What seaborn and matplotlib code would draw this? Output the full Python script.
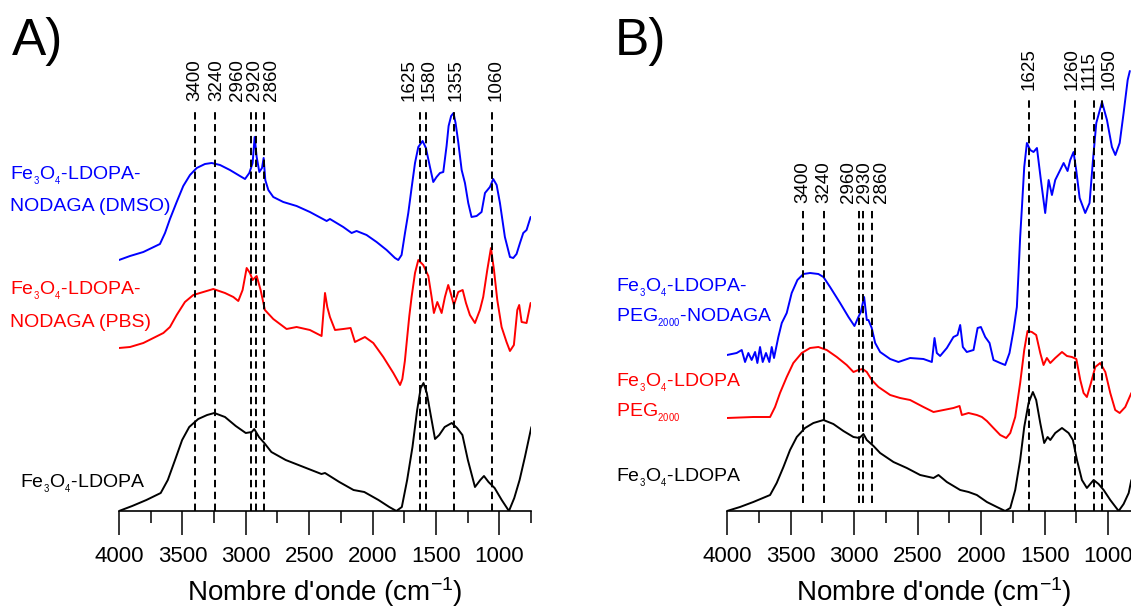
import numpy as np
import pandas as pd
import matplotlib
matplotlib.use("Agg")
import matplotlib.pyplot as plt
from matplotlib.ticker import MultipleLocator
from matplotlib.transforms import offset_copy
import seaborn as sns

# Spectra (wavenumber in cm-1, absorbance in arbitrary units, curves stacked)
a_wn_dmso = [4000, 3913, 3808, 3677, 3637, 3598, 3545, 3493, 3440, 3387, 3322, 3269, 3203, 3125, 3046,
             3006, 2972, 2946, 2930, 2914, 2893, 2872, 2859, 2846, 2822, 2783, 2704, 2599, 2494, 2362,
             2336, 2231, 2165, 2126, 2047, 1968, 1889, 1823, 1797, 1771, 1744, 1718, 1692, 1665, 1639,
             1605, 1579, 1547, 1521, 1495, 1468, 1442, 1416, 1400, 1380, 1361, 1345, 1325, 1297, 1271,
             1245, 1219, 1179, 1140, 1113, 1074, 1048, 1021, 995, 956, 916, 890, 864, 837, 811,
             785, 753]
a_dmso = [251, 255, 259, 267, 278, 292, 309, 325, 336, 343, 347, 348, 346, 341, 335,
          332, 338, 348, 374, 354, 339, 343, 353, 331, 321, 314, 309, 305, 299, 290,
          292, 284, 278, 280, 276, 269, 261, 253, 251, 256, 278, 298, 323, 348, 364,
          370, 363, 344, 329, 334, 338, 339, 365, 385, 395, 398, 388, 370, 341, 328,
          308, 294, 295, 299, 318, 324, 332, 326, 308, 274, 254, 253, 257, 268, 278,
          281, 294]

a_wn_pbs = [4000, 3913, 3808, 3729, 3650, 3598, 3545, 3480, 3414, 3335, 3256, 3164, 3098, 3059, 3025,
            2993, 2967, 2946, 2914, 2883, 2849, 2783, 2678, 2599, 2494, 2402, 2375, 2357, 2336, 2296,
            2231, 2173, 2139, 2060, 1994, 1915, 1836, 1783, 1765, 1745, 1728, 1710, 1692, 1665, 1639,
            1600, 1560, 1534, 1516, 1489, 1455, 1429, 1403, 1384, 1358, 1324, 1289, 1263, 1232, 1192,
            1153, 1127, 1095, 1066, 1042, 1016, 982, 943, 916, 885, 858, 843, 824, 785, 753]
a_pbs = [163, 164, 168, 173, 178, 184, 196, 209, 216, 219, 222, 218, 214, 210, 221,
         243, 238, 231, 235, 221, 201, 192, 182, 184, 181, 175, 218, 204, 194, 181,
         182, 183, 169, 174, 168, 154, 138, 126, 132, 150, 172, 195, 214, 238, 251,
         246, 235, 214, 198, 209, 198, 214, 226, 218, 206, 219, 221, 208, 196, 188,
         201, 214, 241, 263, 241, 211, 184, 169, 160, 166, 201, 206, 189, 188, 208]

a_wn_ldopa = [4000, 3896, 3784, 3671, 3615, 3558, 3502, 3446, 3375, 3305, 3248, 3164, 3079, 3000, 2953,
              2933, 2896, 2854, 2798, 2685, 2544, 2403, 2375, 2262, 2150, 2065, 1953, 1868, 1812, 1769,
              1727, 1685, 1648, 1620, 1598, 1572, 1544, 1507, 1474, 1431, 1375, 1333, 1291, 1248, 1192,
              1150, 1121, 1085, 1037, 981, 924, 882, 840, 798, 747]
a_ldopa = [0, 5, 11, 18, 31, 51, 71, 84, 92, 96, 98, 94, 85, 78, 79,
           82, 74, 68, 59, 51, 44, 37, 38, 29, 21, 19, 11, 4, 0, 4,
           31, 64, 101, 123, 128, 118, 98, 72, 76, 84, 88, 83, 76, 51, 24,
           31, 35, 29, 23, 11, 0, 13, 31, 54, 84]

b_wn_nodaga = [4000, 3924, 3884, 3858, 3832, 3806, 3779, 3761, 3740, 3719, 3693, 3667, 3648, 3630, 3596,
               3569, 3530, 3491, 3446, 3399, 3346, 3281, 3241, 3189, 3110, 3044, 2997, 2966, 2947, 2921,
               2900, 2887, 2861, 2834, 2795, 2716, 2651, 2559, 2454, 2388, 2367, 2349, 2323, 2270, 2218,
               2186, 2165, 2144, 2113, 2060, 2028, 2002, 1968, 1934, 1903, 1850, 1811, 1777, 1745, 1719,
               1706, 1693, 1679, 1661, 1640, 1614, 1588, 1561, 1530, 1496, 1469, 1443, 1417, 1378, 1351,
               1320, 1299, 1273, 1252, 1225, 1181, 1147, 1120, 1094, 1049, 1010, 971, 944, 910, 879,
               847, 830]
b_nodaga = [156, 158, 161, 149, 158, 151, 159, 148, 164, 149, 158, 149, 164, 153, 174,
            188, 198, 218, 231, 237, 238, 237, 234, 224, 208, 194, 185, 194, 199, 214,
            191, 191, 183, 168, 159, 152, 149, 153, 152, 149, 173, 158, 155, 163, 174,
            176, 186, 164, 159, 161, 183, 184, 174, 168, 151, 148, 146, 158, 181, 204,
            238, 274, 304, 344, 368, 361, 359, 363, 331, 298, 331, 316, 331, 341, 348,
            340, 351, 359, 341, 313, 298, 308, 351, 388, 409, 391, 364, 356, 368, 398,
            431, 440]

b_wn_peg = [4000, 3793, 3661, 3622, 3583, 3530, 3478, 3412, 3346, 3281, 3215, 3136, 3058, 3005, 2966,
            2932, 2900, 2861, 2808, 2716, 2638, 2559, 2454, 2375, 2296, 2218, 2170, 2152, 2099, 2034,
            1994, 1955, 1903, 1850, 1803, 1771, 1732, 1693, 1661, 1635, 1601, 1567, 1535, 1509, 1483,
            1456, 1417, 1364, 1325, 1286, 1251, 1220, 1194, 1168, 1136, 1102, 1063, 1023, 984, 945,
            910, 866, 818]
b_peg = [93, 94, 94, 104, 118, 134, 148, 158, 163, 164, 161, 154, 146, 139, 141,
         142, 139, 131, 124, 116, 113, 111, 104, 99, 101, 103, 105, 96, 98, 96,
         94, 90, 83, 76, 73, 78, 94, 128, 161, 180, 179, 176, 158, 146, 153,
         148, 153, 159, 155, 154, 152, 131, 118, 114, 128, 144, 148, 139, 118, 101,
         98, 104, 118]

b_wn_ldopa = [4000, 3898, 3793, 3661, 3609, 3556, 3504, 3451, 3386, 3320, 3241, 3163, 3084, 3005, 2958,
              2926, 2900, 2847, 2795, 2690, 2585, 2480, 2375, 2336, 2270, 2165, 2099, 2034, 1955, 1876,
              1811, 1771, 1732, 1693, 1661, 1627, 1593, 1567, 1535, 1504, 1477, 1456, 1417, 1364, 1312,
              1278, 1246, 1207, 1168, 1115, 1076, 1036, 984, 918, 879, 839, 818]
b_ldopa = [0, 4, 9, 16, 28, 44, 61, 74, 83, 88, 91, 87, 80, 74, 73,
           77, 71, 65, 58, 49, 43, 36, 33, 36, 29, 21, 19, 16, 9, 4,
           0, 3, 21, 51, 84, 108, 119, 111, 88, 68, 74, 71, 78, 83, 78,
           71, 51, 31, 23, 31, 27, 21, 11, 0, 7, 18, 31]

a_peaks = [3400, 3240, 2960, 2920, 2860, 1625, 1580, 1355, 1060]
b_peaks_oh = [3400, 3240, 2960, 2930, 2860]
b_peaks_fp = [1625, 1260, 1115, 1050]

# small sideways nudges (pixels) so the crowded peak labels do not collide
a_nudge = [0, 1, -13, -1, 8, -11, 3, 2, 4]
b_nudge_oh = [0, 0, -11, 2, 10]
b_nudge_fp = [0, -3, -4, 7]

BLUE, RED, BLACK = "#0000ff", "#ff0000", "#000000"

sns.set_style("white")
plt.rcParams["font.family"] = ["Liberation Sans", "DejaVu Sans"]
plt.rcParams["mathtext.fontset"] = "custom"
plt.rcParams["mathtext.rm"] = "Liberation Sans"
plt.rcParams["mathtext.it"] = "Liberation Sans:italic"
plt.rcParams["mathtext.bf"] = "Liberation Sans:bold"
for key in ["text.color", "axes.labelcolor", "xtick.color", "axes.edgecolor"]:
    plt.rcParams[key] = "black"

W, H = 1131, 610
fig = plt.figure(figsize=(W / 100, H / 100), dpi=100)
base = 511  # pixel row of the x axis


def make_axes(x0, x1):
    ax = fig.add_axes([x0 / W, (H - base) / H, (x1 - x0) / W, base / H])
    ax.set_xlim(4000, 750)
    ax.set_ylim(0, base)
    for s in ["left", "right", "top"]:
        ax.spines[s].set_visible(False)
    ax.spines["bottom"].set_linewidth(1.2)
    ax.spines["bottom"].set_color("black")
    ax.set_yticks([])
    ax.xaxis.set_major_locator(MultipleLocator(500))
    ax.xaxis.set_minor_locator(MultipleLocator(250))
    ax.tick_params(axis="x", which="major", direction="out", length=17, width=1.1,
                   labelsize=16, pad=8, bottom=True, colors="black")
    ax.tick_params(axis="x", which="minor", direction="out", length=8.5, width=1.1,
                   bottom=True, colors="black")
    ax.patch.set_alpha(0)
    return ax


def curve(ax, wn, ab, color):
    df = pd.DataFrame({"wn": wn, "ab": ab})
    sns.lineplot(data=df, x="wn", y="ab", ax=ax, color=color, lw=1.4, sort=False,
                 estimator=None, legend=False)


def peaks(ax, wns, nudges, y0, y1, ytxt):
    for w, dx in zip(wns, nudges):
        ax.vlines(w, y0, y1, colors="black", linestyles=(0, (3.8, 2.3)), lw=1.4)
        tr = offset_copy(ax.transData, fig=fig, x=dx, y=0, units="dots")
        ax.text(w, ytxt, str(w), rotation=90, ha="center", va="bottom", fontsize=13.5,
                color="black", transform=tr)


axA = make_axes(119, 531)
curve(axA, a_wn_dmso, a_dmso, BLUE)
curve(axA, a_wn_pbs, a_pbs, RED)
curve(axA, a_wn_ldopa, a_ldopa, BLACK)
peaks(axA, a_peaks, a_nudge, 0, 399, 410)
axA.set_xlabel("Nombre d'onde (cm$^{-1}$)", fontsize=20, labelpad=6, color="black")
axA.set_ylabel("")

axB = make_axes(727, 1140)
curve(axB, b_wn_nodaga, b_nodaga, BLUE)
curve(axB, b_wn_peg, b_peg, RED)
curve(axB, b_wn_ldopa, b_ldopa, BLACK)
peaks(axB, b_peaks_oh, b_nudge_oh, 8, 301, 308)
peaks(axB, b_peaks_fp, b_nudge_fp, 0, 413, 421)
axB.set_xlabel("Nombre d'onde (cm$^{-1}$)", fontsize=20, labelpad=6, color="black")
axB.set_ylabel("")


def label(px, py, s, color, size=14):
    fig.text(px / W, 1 - py / H, s, color=color, fontsize=size, ha="left", va="baseline")


fe = "Fe$_{{}_3}$O$_{{}_4}$-LDOPA"
peg = "PEG$_{{}_{2000}}$"
label(12, 55, "A)", BLACK, 37)
label(615, 55, "B)", BLACK, 37)
label(10, 180, fe + "-", BLUE)
label(10, 211, "NODAGA (DMSO)", BLUE)
label(10, 295, fe + "-", RED)
label(10, 327, "NODAGA (PBS)", RED)
label(20, 488, fe, BLACK)
label(616, 292, fe + "-", BLUE)
label(616, 322, peg + "-NODAGA", BLUE)
label(616, 387, fe, RED)
label(616, 417, peg, RED)
label(616, 482, fe, BLACK)

fig.savefig("out.png", dpi=100)
